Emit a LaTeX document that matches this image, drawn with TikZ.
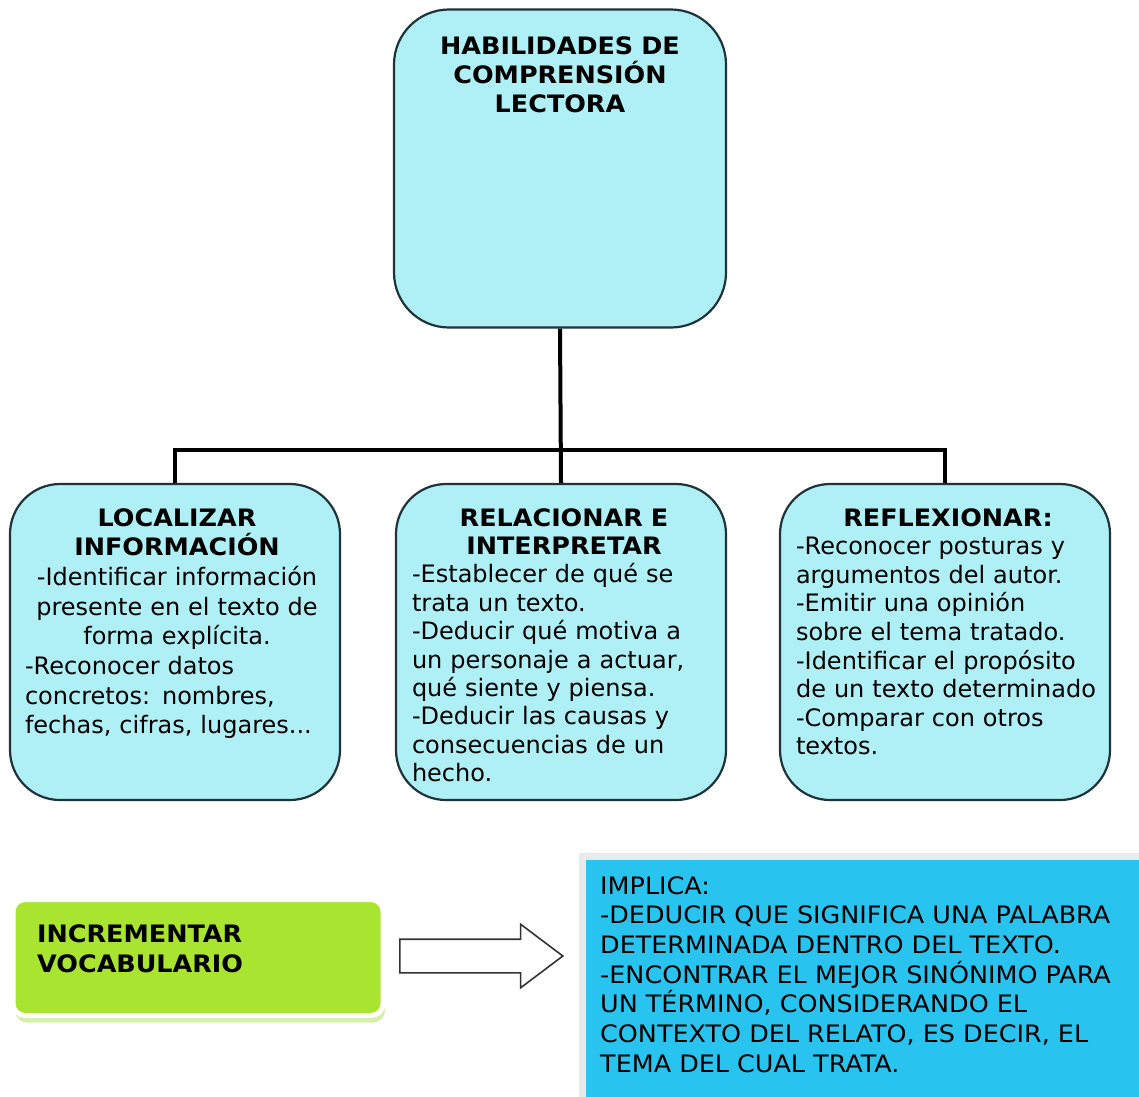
\documentclass[tikz,border=0pt]{standalone}
\usepackage{fontspec}
\setmainfont{DejaVu Sans}
\newfontfamily\anchafont[FakeStretch=1.06]{DejaVu Sans}
\usetikzlibrary{shapes.arrows,shadows}
\setlength{\parindent}{0pt}
\hyphenpenalty=10000
\definecolor{celeste}{RGB}{175,240,246}
\definecolor{borde}{RGB}{30,52,58}
\definecolor{lima}{RGB}{168,228,48}
\definecolor{limaclaro}{RGB}{214,240,170}
\definecolor{azul}{RGB}{40,195,238}
\definecolor{marco}{RGB}{232,234,236}

\begin{document}
\begin{tikzpicture}[x=1pt,y=-1pt,
  caja/.style={draw=borde,line width=2.2pt,fill=celeste,rounded corners=50pt,
    minimum width=330pt,minimum height=316pt,inner sep=0pt},
  texto/.style={anchor=north,text width=304pt,align=left,inner sep=0pt,
    font=\fontsize{24}{#1}\selectfont},
  texto/.default=28.6,
  linea/.style={line width=4pt}]
\useasboundingbox[fill=white] (0,0) rectangle (1139,1096);

\node (hab) at (560,168.5) [caja,minimum width=332pt,minimum height=318pt,rounded corners=55pt] {};
\node (loc) at (175,642) [caja] {};
\node (rel) at (561,642) [caja] {};
\node (ref) at (945,642) [caja] {};

\coordinate (cruce) at (561,450);
\draw[linea] (hab.south) -- (rel.north);
\draw[linea] (loc.north) |- (cruce) -| (ref.north);

\node (habtxt) at (560,36) [texto=29,align=center] {\anchafont\bfseries HABILIDADES DE\\COMPRENSIÓN\\LECTORA};
\node (loctxt) at (177,508) [texto=29.7] {{\centering\anchafont\bfseries LOCALIZAR\\INFORMACIÓN\\\normalfont -Identificar información\\presente en el texto de\\forma explícita.\par}-Reconocer datos\\concretos: nombres,\\fechas, cifras, lugares...};
\node (reltxt) at (564,508) [texto=28.4] {{\centering\anchafont\bfseries RELACIONAR E\\INTERPRETAR\par}-Establecer de qué se\\trata un texto.\\-Deducir qué motiva a\\un personaje a actuar,\\qué siente y piensa.\\-Deducir las causas y\\consecuencias de un\\hecho.};
\node (reftxt) at (948,508) [texto=28.6] {{\centering\anchafont\bfseries REFLEXIONAR:\par}-Reconocer posturas y\\argumentos del autor.\\-Emitir una opinión\\sobre el tema tratado.\\-Identificar el propósito\\de un texto determinado\\-Comparar con otros\\textos.};

\node (voc) at (198,957.5) [fill=lima,draw=white,line width=5pt,rounded corners=12pt,
  minimum width=370pt,minimum height=116pt,
  drop shadow={shadow xshift=2pt,shadow yshift=-7pt,fill=limaclaro,opacity=1}] {};
\node (voctxt) at (37,924.5) [anchor=north west,inner sep=0pt,align=left,
  font=\fontsize{24}{30}\selectfont\anchafont\bfseries] {INCREMENTAR\\VOCABULARIO};

\node (flecha) at (399,956) [anchor=tail,single arrow,draw=black!80,fill=white,line width=1.6pt,
  minimum height=163pt,single arrow head extend=15pt,single arrow tip angle=74,inner sep=16pt] {};

\node (impl) at (579,853) [anchor=north west,fill=azul,draw=marco,line width=7pt,
  minimum width=600pt,minimum height=260pt] {};
\node (impltxt) at (600,876) [anchor=north west,inner sep=0pt,align=left,
  font=\fontsize{24}{29.7}\selectfont\anchafont] {IMPLICA:\\-DEDUCIR QUE SIGNIFICA UNA PALABRA\\DETERMINADA DENTRO DEL TEXTO.\\-ENCONTRAR EL MEJOR SINÓNIMO PARA\\UN TÉRMINO, CONSIDERANDO EL\\CONTEXTO DEL RELATO, ES DECIR, EL\\TEMA DEL CUAL TRATA.};
\end{tikzpicture}
\end{document}
